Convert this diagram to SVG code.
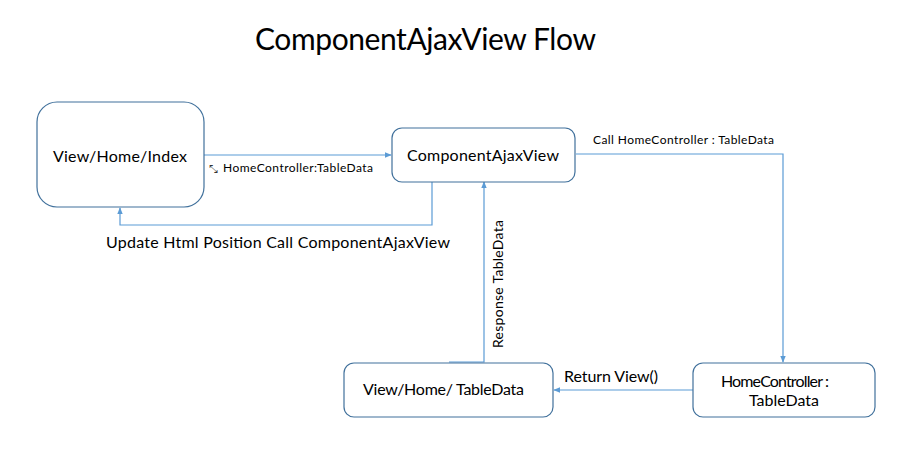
<svg xmlns="http://www.w3.org/2000/svg" width="917" height="453" viewBox="0 0 917 453">
<style>
.box{fill:#ffffff;stroke:#41719c;stroke-width:1.2}
.t{font-family:Lato,"Liberation Sans",sans-serif;fill:#000000}
.c{fill:none;stroke:#5b9bd5;stroke-width:1.2}
</style>
<defs>
<marker id="ah" viewBox="0 0 10 10" refX="9" refY="5" markerWidth="7" markerHeight="7" orient="auto" markerUnits="userSpaceOnUse">
<path d="M0,1 L10,5 L0,9 z" fill="#5b9bd5"/>
</marker>
</defs>
<rect width="917" height="453" fill="#ffffff"/>
<text class="t" x="255" y="50" font-size="30" textLength="341">ComponentAjaxView Flow</text>
<g id="connectors">
<path class="c" d="M204,155 H391" marker-end="url(#ah)"/>
<path class="c" d="M432,182 V225 H120 V208" marker-end="url(#ah)"/>
<path class="c" d="M576,154 H783 V362" marker-end="url(#ah)"/>
<path class="c" d="M693,390 H554" marker-end="url(#ah)"/>
<path class="c" d="M449,362 H484 V182" marker-end="url(#ah)"/>
<text x="209" y="173" font-family="DejaVu Sans,sans-serif" font-size="11" fill="#333">⤡</text>
<text class="t" x="223" y="172" font-size="12" textLength="150">HomeController:TableData</text>
<text class="t" x="106" y="248" font-size="16" textLength="344">Update Html Position Call ComponentAjaxView</text>
<text class="t" x="593" y="144" font-size="12" textLength="181">Call HomeController : TableData</text>
<text class="t" x="564" y="382" font-size="16" textLength="94">Return View()</text>
<text class="t" transform="translate(503,348) rotate(-90)" x="0" y="0" font-size="14" textLength="128">Response TableData</text>
</g>
<g id="n1">
<rect class="box" x="37" y="102" width="167" height="105" rx="20"/>
<text class="t" x="53" y="162" font-size="16" textLength="134">View/Home/Index</text>
</g>
<g id="n2">
<rect class="box" x="392" y="128" width="183" height="54" rx="10"/>
<text class="t" x="407" y="161" font-size="16" textLength="152">ComponentAjaxView</text>
</g>
<g id="n3">
<rect class="box" x="344" y="363" width="209" height="54" rx="10"/>
<text class="t" x="363" y="395" font-size="16" textLength="161">View/Home/ TableData</text>
</g>
<g id="n4">
<rect class="box" x="693" y="363" width="182" height="54" rx="10"/>
<text class="t" x="721" y="387" font-size="16" textLength="108">HomeController :</text>
<text class="t" x="784" y="406" font-size="16" text-anchor="middle">TableData</text>
</g>
</svg>
